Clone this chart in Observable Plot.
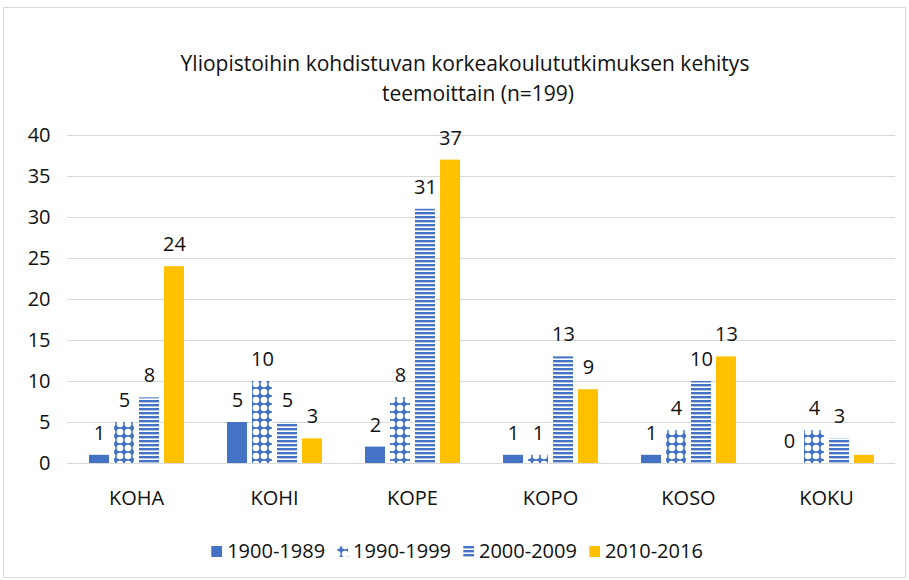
<!DOCTYPE html>
<html>
<head>
<meta charset="utf-8">
<script src="https://cdn.jsdelivr.net/npm/d3@7"></script>
<script src="https://cdn.jsdelivr.net/npm/@observablehq/plot@0.6"></script>
<style>
  body { margin: 0; background: #fff; font-family: "Open Sans", sans-serif; color: #111; }
  #wrap { position: relative; width: 909px; height: 580px; overflow: hidden; background: #fff; }
  #frame { position: absolute; left: 3px; top: 7px; width: 903px; height: 571px; border: 1px solid #d9d9d9; box-sizing: border-box; }
  .t { position: absolute; white-space: nowrap; font-size: 21px; transform: translate(-50%, -50%); line-height: 1; }
  #chart { position: absolute; left: 0; top: 120px; }
  #legend { position: absolute; top: 551px; left: 457px; transform: translate(-50%, -50%); display: flex; align-items: center; font-size: 20px; white-space: nowrap; line-height: 1; }
  #legend .item { display: flex; align-items: center; margin: 0 6px; }
  #legend svg { margin-right: 5px; }
</style>
</head>
<body>
<div id="wrap">
  <div id="frame"></div>
  <div class="t" style="left:465px; top:63px;">Yliopistoihin kohdistuvan korkeakoulututkimuksen kehitys</div>
  <div class="t" style="left:478px; top:93px;">teemoittain (n=199)</div>
  <div id="chart"></div>
  <div id="legend"></div>
</div>
<script>
// ---- data ----
const categories = ["KOHA", "KOHI", "KOPE", "KOPO", "KOSO", "KOKU"];
const series = ["1900-1989", "1990-1999", "2000-2009", "2010-2016"];
const v1900 = [1, 5, 2, 1, 1, 0];
const v1990 = [5, 10, 8, 1, 4, 4];
const v2000 = [8, 5, 31, 13, 10, 3];
const v2010 = [24, 3, 37, 9, 13, 1];
const showLabel2010 = [true, true, true, true, true, false];
const yTicks = [0, 5, 10, 15, 20, 25, 30, 35, 40];

const seriesValues = [v1900, v1990, v2000, v2010];
const seriesFill = ["#4472C4", "url(#p1990)", "url(#p2000)", "#FFC000"];

const rows = [];
series.forEach((s, i) => {
  categories.forEach((c, j) => {
    rows.push({cat: c, series: s, si: i, value: seriesValues[i][j],
      showLabel: i === 3 ? showLabel2010[j] : true});
  });
});

// bar geometry inside each category band (styling)
const step = 25, barW = 20, offset0 = 22, band = 138;
const marks = [Plot.ruleY(yTicks, {stroke: "#d9d9d9", strokeWidth: 1})];
series.forEach((s, i) => {
  const left = offset0 + i * step;
  marks.push(Plot.barY(rows.filter(d => d.si === i), {
    x: "cat", y: "value", fill: seriesFill[i],
    insetLeft: left, insetRight: band - left - barW
  }));
  marks.push(Plot.text(rows.filter(d => d.si === i && d.showLabel), {
    x: "cat", y: "value", text: d => String(d.value),
    dx: left + barW / 2 - band / 2, dy: -22, fill: "#111", fontSize: 20
  }));
});
marks.push(Plot.axisY(yTicks, {tickSize: 0, tickPadding: 17, label: null, fontSize: 20, fill: "#111"}));
marks.push(Plot.axisX({tickSize: 0, tickPadding: 27, label: null, fontSize: 20, fill: "#111"}));

const svg = Plot.plot({
  width: 909,
  height: 400,
  marginLeft: 67,
  marginRight: 14,
  marginTop: 15,
  marginBottom: 57,
  style: {fontFamily: "Open Sans, sans-serif", fontSize: "20px", color: "#111", background: "transparent"},
  x: {type: "band", domain: categories, padding: 0, axis: null},
  y: {domain: [0, 40], axis: null},
  marks
});

// patterns
const defs = d3.select(svg).insert("defs", ":first-child");
const p1 = defs.append("pattern").attr("id", "p1990").attr("patternUnits", "userSpaceOnUse")
  .attr("width", 8).attr("height", 8);
p1.append("rect").attr("width", 8).attr("height", 8).attr("fill", "#4472C4");
for (const [cx, cy] of [[0, 0], [8, 0], [0, 8], [8, 8]]) {
  p1.append("circle").attr("cx", cx).attr("cy", cy).attr("r", 3.3).attr("fill", "#fff");
}
const p2 = defs.append("pattern").attr("id", "p2000").attr("patternUnits", "userSpaceOnUse")
  .attr("width", 8).attr("height", 4);
p2.append("rect").attr("width", 8).attr("height", 4).attr("fill", "#fff");
p2.append("rect").attr("y", 0).attr("width", 8).attr("height", 2.4).attr("fill", "#4472C4");

document.getElementById("chart").appendChild(svg);

// legend
const legend = d3.select("#legend");
series.forEach((s, i) => {
  const item = legend.append("div").attr("class", "item");
  const sw = item.append("svg").attr("width", 11).attr("height", 11);
  sw.append("rect").attr("width", 11).attr("height", 11).attr("fill", seriesFill[i]);
  item.append("span").text(s);
});
</script>
</body>
</html>
